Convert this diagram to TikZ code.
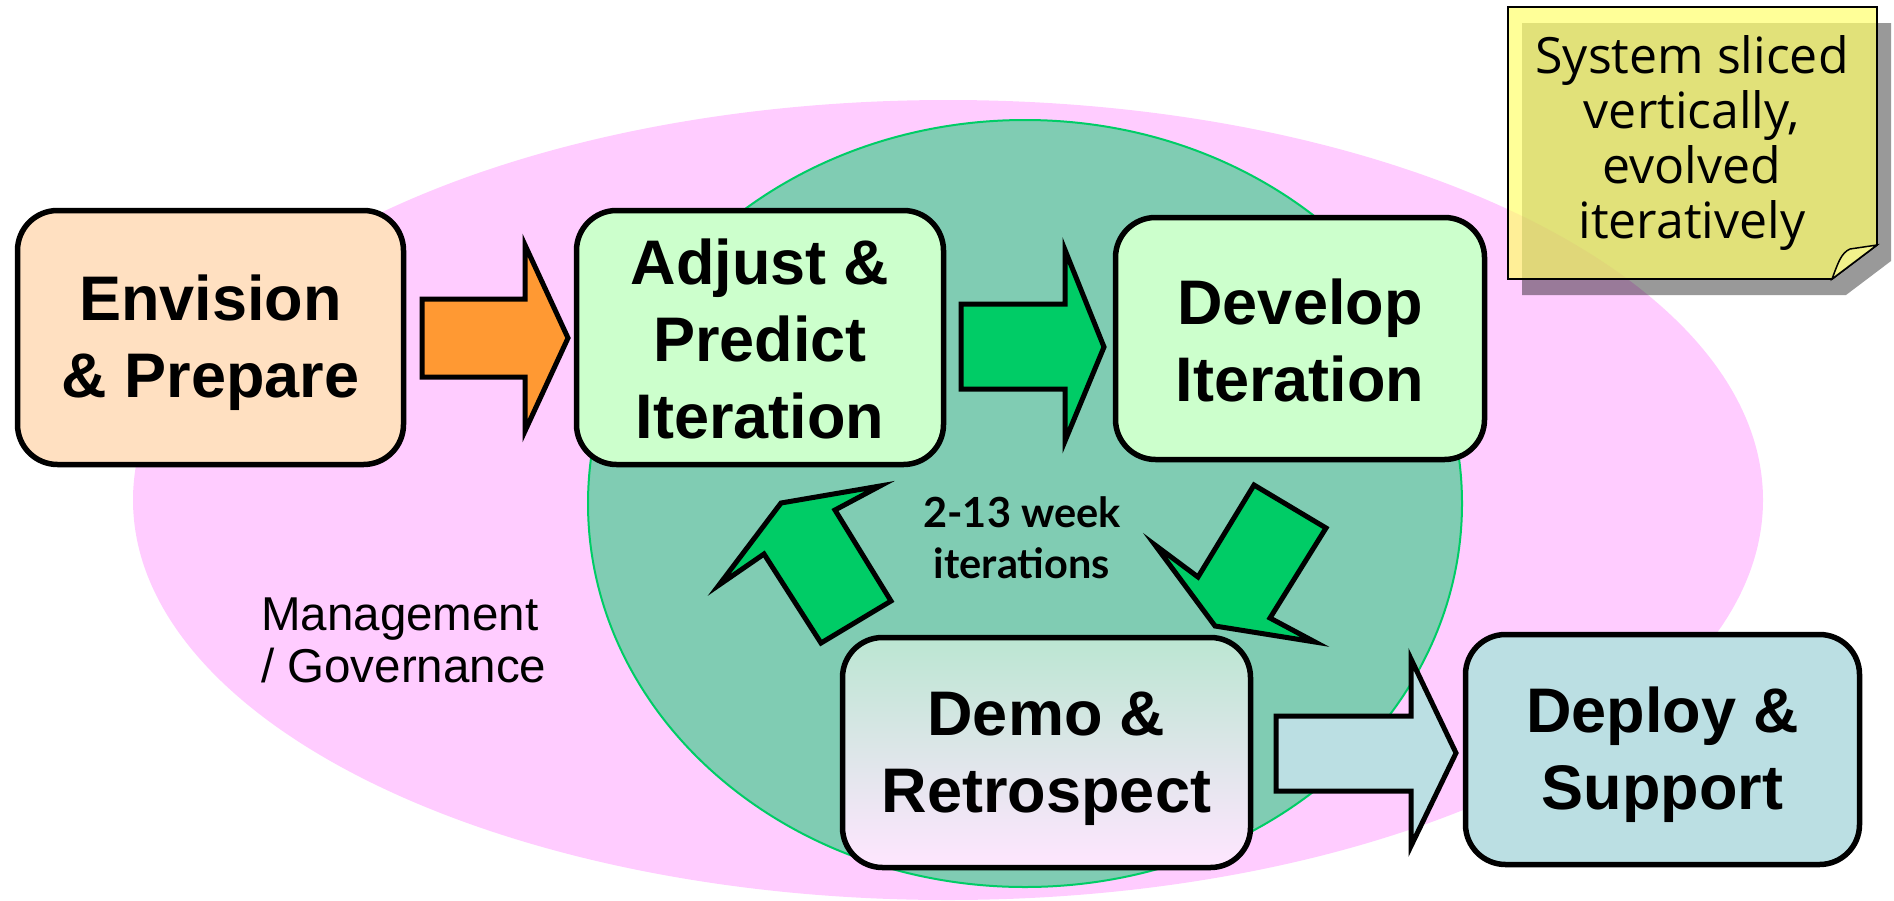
\documentclass[tikz,border=0pt]{standalone}
\usepackage{fontspec}
\setmainfont{Liberation Sans}
\newfontfamily\notefont{Open Sans}
\newfontfamily\gillfont{Lato}
\definecolor{pinkbg}{HTML}{FFCCFF}
\definecolor{tealbg}{HTML}{80CCB3}
\definecolor{tealline}{HTML}{00CC66}
\definecolor{peach}{HTML}{FFE0C1}
\definecolor{lightgreen}{HTML}{CCFFCC}
\definecolor{deployblue}{HTML}{BBDFE3}
\definecolor{orangearr}{HTML}{FF9933}
\definecolor{greenarr}{HTML}{00CC66}
\definecolor{demotop}{HTML}{BBE6D2}
\definecolor{demobot}{HTML}{FFE6FF}
\definecolor{noteyellow}{HTML}{FFFF6C}
\definecolor{flapyellow}{HTML}{F2F28C}
\newcommand\boxstrut{\rule[-8pt]{0pt}{64pt}}
\newcommand\notestrut{\rule[-9pt]{0pt}{47pt}}
\newcommand\iterstrut{\rule[-8pt]{0pt}{41pt}}
\newcommand\mgmtstrut{\rule[-10pt]{0pt}{48pt}}
\begin{document}
\begin{tikzpicture}[x=1pt,y=-1pt,line join=miter,
  box/.style={draw=black, line width=5.5pt, rounded corners=40pt, inner sep=0pt,
    align=center, font=\bfseries\fontsize{63}{77}\selectfont},
  blockarrow/.style={draw=black, line width=5pt, line join=miter, miter limit=10}]
\useasboundingbox (0,0) rectangle (1894,900);
% background ellipses
\fill[pinkbg] (948,500) ellipse [x radius=815pt, y radius=400pt];
\filldraw[fill=tealbg, draw=tealline, line width=2pt] (1025,503.5) ellipse [x radius=437pt, y radius=383.5pt];
% boxes
\node[box, fill=peach, minimum width=386pt, minimum height=254pt] (env) at (210.5,337.5)
  {\boxstrut Envision\\\boxstrut \& Prepare};
\node[box, fill=lightgreen, minimum width=367pt, minimum height=254pt] (adj) at (760,337.5)
  {\boxstrut Adjust \&\\\boxstrut Predict\\\boxstrut Iteration};
\node[box, fill=lightgreen, minimum width=369pt, minimum height=242pt] (dev) at (1300,338.5)
  {\boxstrut Develop\\\boxstrut Iteration};
\node[box, top color=demotop, bottom color=demobot, minimum width=408pt, minimum height=230pt] (demo) at (1046.5,752.5)
  {\boxstrut Demo \&\\\boxstrut Retrospect};
\node[box, fill=deployblue, minimum width=394pt, minimum height=230pt] (dep) at (1662.5,749.5)
  {\boxstrut Deploy \&\\\boxstrut Support};
% block arrows
\filldraw[blockarrow, fill=orangearr] (422,299) -- (525,299) -- (525,245) -- (568,338) -- (525,431) -- (525,377) -- (422,377) -- cycle;
\filldraw[blockarrow, fill=greenarr] (961,304) -- (1065,304) -- (1065,250) -- (1104,347) -- (1065,441) -- (1065,389) -- (961,389) -- cycle;
\filldraw[blockarrow, fill=deployblue] (1276,716) -- (1411,716) -- (1411,659) -- (1456,753) -- (1411,846) -- (1411,791) -- (1276,791) -- cycle;
\filldraw[blockarrow, fill=greenarr] (719,585) -- (764,554) -- (821,643) -- (891,601) -- (835,510) -- (880,486) -- (781,503) -- cycle;
\filldraw[blockarrow, fill=greenarr] (1254,485) -- (1326,528) -- (1270,618) -- (1315,642) -- (1215,626) -- (1155,545) -- (1198,577) -- cycle;
% labels
\node[inner sep=0pt, align=center, font=\gillfont\bfseries\fontsize{41.5}{51}\selectfont] (iter) at (1022,540)
  {\iterstrut 2-13 week\\\iterstrut iterations};
\node[inner sep=0pt, align=left, anchor=west, font=\fontsize{47.5}{52}\selectfont] (mgmt) at (261,642)
  {\mgmtstrut Management\\\mgmtstrut / Governance};
% sticky note
\fill[black, opacity=0.4] (1522,23) -- (1891,23) -- (1891,261) -- (1846,295) -- (1522,295) -- cycle;
\filldraw[fill=noteyellow, fill opacity=0.7, draw=black, line width=1.8pt] (1508,7) -- (1877,7) -- (1877,245) -- (1832,279) -- (1508,279) -- cycle;
\filldraw[fill=flapyellow, draw=black, line width=1.5pt] (1877,245) -- (1832,279) .. controls (1838,263) and (1841,253) .. (1850,249) -- cycle;
\node[inner sep=0pt, align=center, font=\notefont\fontsize{50}{55}\selectfont] (note) at (1692,143)
  {\notestrut System sliced\\\notestrut vertically,\\\notestrut evolved\\\notestrut iteratively};
\end{tikzpicture}
\end{document}
